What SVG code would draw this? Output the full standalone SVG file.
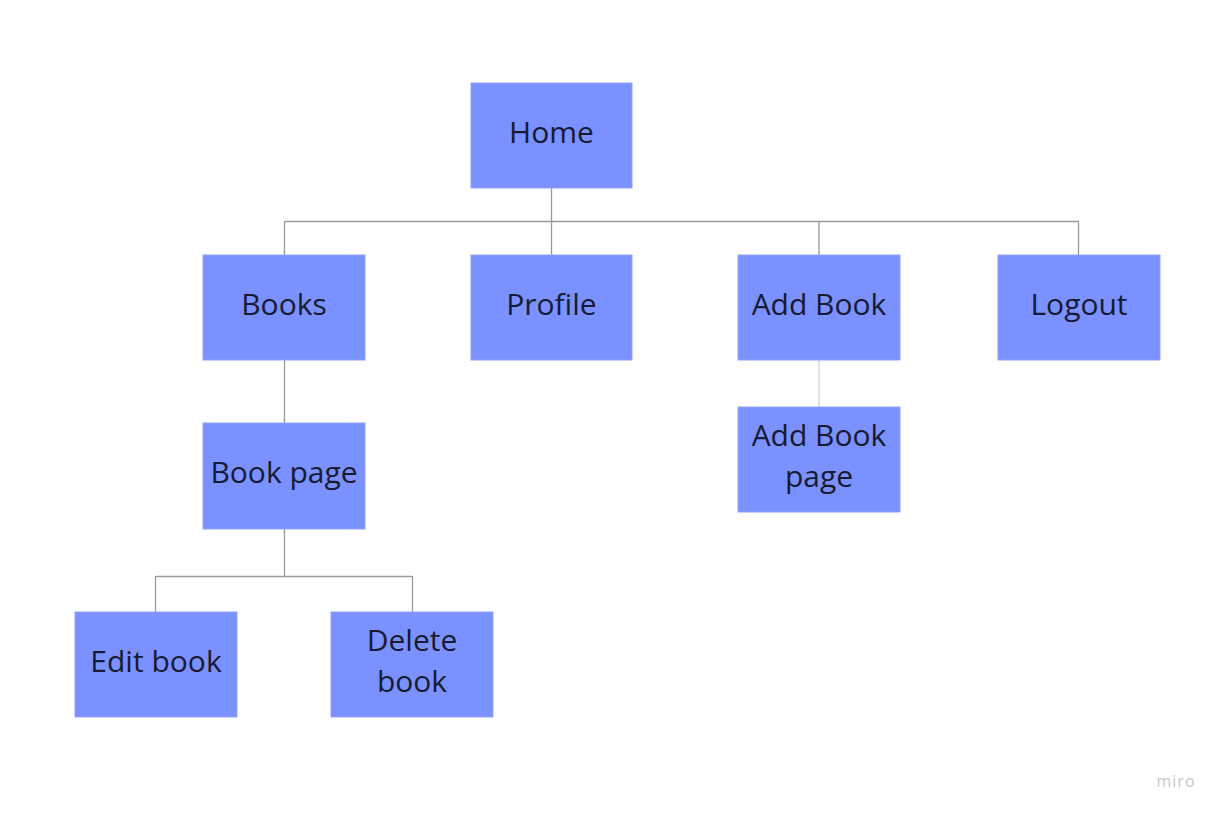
<svg xmlns="http://www.w3.org/2000/svg" width="1224" height="816" viewBox="0 0 1224 816">
<style>
.box{fill:#7b91ff;stroke:#8fa2ff;stroke-width:1}
.lbl{font-family:"Open Sans","Noto Sans",sans-serif;font-size:30px;fill:#171a33;text-anchor:middle}
.con{stroke:#9a9a9a;stroke-width:1.3;fill:none}
.con2{stroke:#d0d0d0;stroke-width:1.3;fill:none}
</style>
<rect width="1224" height="816" fill="#ffffff"/>
<g id="connectors">
<path class="con" d="M551.5 188V221.5M284.5 221.5H1078.5M284.5 221.5V255M551.5 221.5V255M819 221.5V255M1078.5 221.5V255"/>
<path class="con" d="M284.5 360V433"/>
<path class="con" d="M284.5 529V576M155.5 576.5H412.5M155.5 576V612M412.5 576V612"/>
<path class="con2" d="M819 360V407"/>
</g>
<g id="home"><rect class="box" x="471" y="83" width="161" height="105"/><text class="lbl" x="551.5" y="143">Home</text></g>
<g id="books"><rect class="box" x="203" y="255" width="162" height="105"/><text class="lbl" x="284" y="315">Books</text></g>
<g id="profile"><rect class="box" x="471" y="255" width="161" height="105"/><text class="lbl" x="551.5" y="315">Profile</text></g>
<g id="addbook"><rect class="box" x="738" y="255" width="162" height="105"/><text class="lbl" x="819" y="315">Add Book</text></g>
<g id="logout"><rect class="box" x="998" y="255" width="162" height="105"/><text class="lbl" x="1079" y="315">Logout</text></g>
<g id="addbookpage"><rect class="box" x="738" y="407" width="162" height="105"/><text class="lbl" x="819" y="446">Add Book</text><text class="lbl" x="819" y="487">page</text></g>
<g id="bookpage"><rect class="box" x="203" y="423" width="162" height="106"/><text class="lbl" x="284" y="483">Book page</text></g>
<g id="editbook"><rect class="box" x="75" y="612" width="162" height="105"/><text class="lbl" x="156" y="672">Edit book</text></g>
<g id="deletebook"><rect class="box" x="331" y="612" width="162" height="105"/><text class="lbl" x="412" y="651">Delete</text><text class="lbl" x="412" y="692">book</text></g>
<text x="1176" y="787" font-family="'Open Sans',sans-serif" font-size="16" fill="#c8c8cc" text-anchor="middle" letter-spacing="1">miro</text>
</svg>
